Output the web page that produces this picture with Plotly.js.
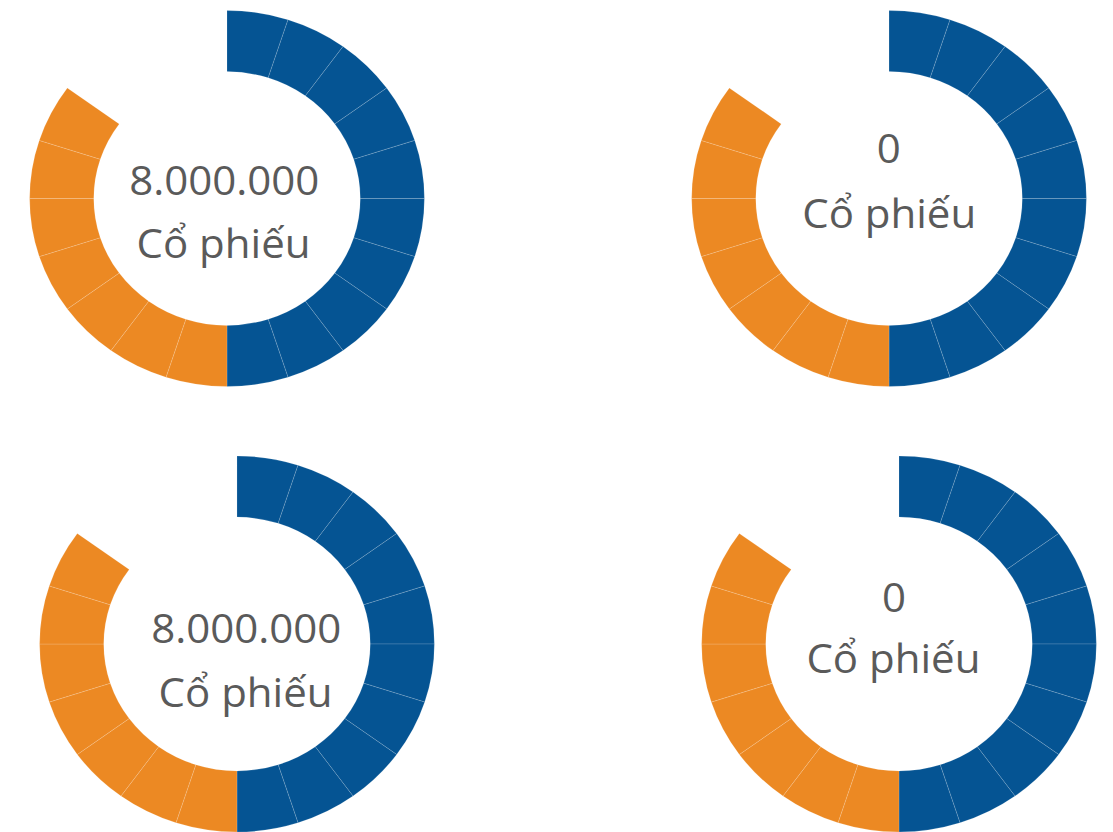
<!DOCTYPE html>
<html>
<head>
<meta charset="utf-8">
<script src="https://cdn.plot.ly/plotly-3.0.1.min.js"></script>
<style>
  html, body { margin: 0; padding: 0; background: #ffffff; overflow: hidden; }
  #chart { width: 1060px; height: 832px; transform: scaleX(1.05); transform-origin: 0 0; }
</style>
</head>
<body>
<div id="chart"></div>
<script>
// ---- data ----
var segmentValues = [1,1,1,1,1,1,1,1,1,1, 1,1,1,1,1,1,1, 1,1,1];
var segmentColors = ['#055493','#055493','#055493','#055493','#055493','#055493','#055493','#055493','#055493','#055493',
                     '#EC8923','#EC8923','#EC8923','#EC8923','#EC8923','#EC8923','#EC8923',
                     'rgba(0,0,0,0)','rgba(0,0,0,0)','rgba(0,0,0,0)'];
var segmentLineWidths = [0.5,0.5,0.5,0.5,0.5,0.5,0.5,0.5,0.5,0.5, 0.5,0.5,0.5,0.5,0.5,0.5,0.5, 0,0,0];
var totals = ['8.000.000', '0', '8.000.000', '0'];
var unitLabel = 'Cổ phiếu';

// ---- layout geometry (pixel positions in the 1060x832 unscaled plot) ----
var W = 1060, H = 832, R = 188;
var centers = [[216.2, 198.5], [846.7, 198.5], [225.7, 644], [856.2, 644]];
var numberPos = [[213.3, 179.4], [846.7, 147.4], [234.3, 627.4], [851.4, 596.4]];
var unitPos = [[213.3, 242.4], [846.7, 212.4], [234.3, 691.4], [850.5, 657.4]];

function clamp(v) { return Math.max(0, Math.min(1, v)); }

var traces = centers.map(function (c) {
  return {
    type: 'pie',
    values: segmentValues,
    sort: false,
    direction: 'clockwise',
    rotation: 0,
    hole: 0.675,
    textinfo: 'none',
    hoverinfo: 'skip',
    showlegend: false,
    marker: {
      colors: segmentColors,
      line: { color: 'rgba(255,255,255,0.3)', width: segmentLineWidths }
    },
    domain: {
      x: [clamp((c[0] - R) / W), clamp((c[0] + R) / W)],
      y: [clamp((H - c[1] - R) / H), clamp((H - c[1] + R) / H)]
    }
  };
});

var annotations = [];
for (var i = 0; i < 4; i++) {
  annotations.push({
    text: totals[i], xref: 'paper', yref: 'paper',
    x: numberPos[i][0] / W, y: 1 - numberPos[i][1] / H,
    xanchor: 'center', yanchor: 'middle', showarrow: false,
    font: { family: 'Open Sans', size: 40, color: '#5a5a5a' }
  });
  annotations.push({
    text: unitLabel, xref: 'paper', yref: 'paper',
    x: unitPos[i][0] / W, y: 1 - unitPos[i][1] / H,
    xanchor: 'center', yanchor: 'middle', showarrow: false,
    font: { family: 'Open Sans', size: 40, color: '#5a5a5a' }
  });
}

var layout = {
  width: W, height: H,
  margin: { l: 0, r: 0, t: 0, b: 0, pad: 0 },
  paper_bgcolor: '#ffffff',
  plot_bgcolor: '#ffffff',
  showlegend: false,
  annotations: annotations
};

Plotly.newPlot('chart', traces, layout, { displayModeBar: false, staticPlot: true });
</script>
</body>
</html>
